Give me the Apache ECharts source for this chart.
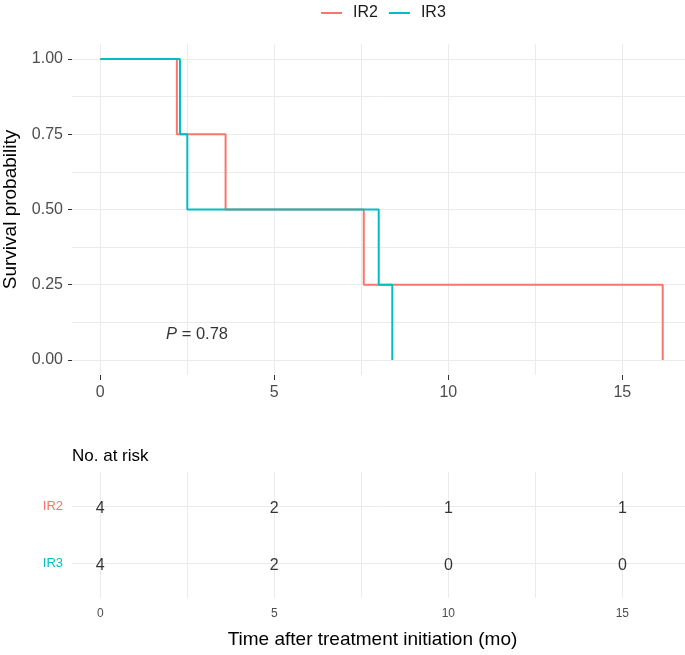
<!DOCTYPE html>
<html>
<head>
<meta charset="utf-8">
<script src="https://cdn.jsdelivr.net/npm/echarts@6/dist/echarts.min.js"></script>
<style>html,body{margin:0;padding:0;background:#fff}#c{width:685px;height:655px}</style>
</head>
<body>
<div id="c"></div>
<script>
// ---- data ----
const groups = ['IR2', 'IR3'];
const groupColors = ['#F8766D', '#00BFC4'];
const ir2Times = [0, 2.2, 3.6, 7.57, 16.16];
const ir2Surv  = [1, 0.75, 0.5, 0.25, 0];
const ir3Times = [0, 2.29, 2.5, 8.0, 8.39];
const ir3Surv  = [1, 0.75, 0.5, 0.25, 0];
const riskTimes = [0, 5, 10, 15];
const ir2Risk = [4, 2, 1, 1];
const ir3Risk = [4, 2, 0, 0];
const xTicks = [0, 5, 10, 15];
const xGrid = [0, 2.5, 5, 7.5, 10, 12.5, 15];
const yTicks = [0, 0.25, 0.5, 0.75, 1];
const yGrid = [0, 0.125, 0.25, 0.375, 0.5, 0.625, 0.75, 0.875, 1];
const pValue = '0.78';

const FONT = 'Liberation Sans, Arial, sans-serif';
const GRID_COL = '#EBEBEB';
const TICK_COL = '#333333';
const xMin = -0.813, xMax = 16.8;

const chart = echarts.init(document.getElementById('c'));

const riskData = [];
riskTimes.forEach((t, i) => {
  riskData.push([t, 2, ir2Risk[i]]);
  riskData.push([t, 1, ir3Risk[i]]);
});

const noLine = { show: false, onZero: false };
const topGrid = { left: 72, right: 0, top: 44, height: 331, outerBoundsMode: 'none' };

const option = {
  backgroundColor: '#fff',
  animation: false,
  textStyle: { fontFamily: FONT },
  title: {
    text: 'No. at risk', left: 67, top: 443,
    textStyle: { fontSize: 17, fontWeight: 'normal', color: '#000', fontFamily: FONT }
  },
  legend: {
    top: 0, left: 316,
    data: groups, icon: 'rect', itemWidth: 21, itemHeight: 2, itemGap: 11,
    textStyle: { fontSize: 16, color: '#1a1a1a', fontFamily: FONT, padding: [0, 0, 0, 6] }
  },
  grid: [
    topGrid,
    { left: 72, right: 0, top: 472, height: 126, outerBoundsMode: 'none' },
    Object.assign({}, topGrid)
  ],
  xAxis: [
    { gridIndex: 0, type: 'value', min: xMin, max: xMax, position: 'bottom',
      axisLine: noLine,
      axisTick: { show: false, customValues: xGrid },
      splitLine: { show: true, lineStyle: { color: GRID_COL, width: 1 } },
      axisLabel: { customValues: xTicks, fontSize: 16, color: '#4D4D4D', margin: 10, fontFamily: FONT } },
    { gridIndex: 1, type: 'value', min: xMin, max: xMax, position: 'bottom',
      axisLine: noLine,
      axisTick: { show: false, customValues: xGrid },
      splitLine: { show: true, lineStyle: { color: GRID_COL, width: 1 } },
      axisLabel: { customValues: xTicks, fontSize: 12, color: '#4D4D4D', margin: 10, fontFamily: FONT },
      name: 'Time after treatment initiation (mo)', nameLocation: 'middle', nameGap: 32,
      nameTextStyle: { fontSize: 19, color: '#000', fontFamily: FONT, padding: [0, 12, 0, 0] } },
    { gridIndex: 2, type: 'value', min: xMin, max: xMax, position: 'bottom',
      axisLine: noLine,
      axisTick: { show: true, customValues: xTicks, length: 5, lineStyle: { color: TICK_COL, width: 1 } },
      splitLine: { show: false }, axisLabel: { show: false } }
  ],
  yAxis: [
    { gridIndex: 0, type: 'value', min: -0.05, max: 1.05, position: 'left',
      axisLine: noLine,
      axisTick: { show: false, customValues: yGrid },
      splitLine: { show: true, lineStyle: { color: GRID_COL, width: 1 } },
      axisLabel: { customValues: yTicks, fontSize: 16, color: '#4D4D4D', margin: 9, fontFamily: FONT,
        formatter: v => v.toFixed(2) },
      name: 'Survival probability', nameLocation: 'middle', nameGap: 52,
      nameTextStyle: { fontSize: 19, color: '#000', fontFamily: FONT } },
    { gridIndex: 1, type: 'value', min: 0.4, max: 2.6, position: 'left',
      axisLine: noLine,
      axisTick: { show: false, customValues: [1, 2] },
      splitLine: { show: true, lineStyle: { color: GRID_COL, width: 1 } },
      axisLabel: { customValues: [1, 2], fontSize: 13, margin: 9, fontFamily: FONT,
        formatter: v => v === 2 ? '{a|' + groups[0] + '}' : '{b|' + groups[1] + '}',
        rich: { a: { color: groupColors[0], fontSize: 13, fontFamily: FONT },
                b: { color: groupColors[1], fontSize: 13, fontFamily: FONT } } } },
    { gridIndex: 2, type: 'value', min: -0.05, max: 1.05, position: 'left',
      axisLine: noLine,
      axisTick: { show: true, customValues: yTicks, length: 4, lineStyle: { color: TICK_COL, width: 1 } },
      splitLine: { show: false }, axisLabel: { show: false } }
  ],
  series: [
    { name: groups[0], type: 'line', step: 'end', xAxisIndex: 0, yAxisIndex: 0,
      data: ir2Times.map((t, i) => [t, ir2Surv[i]]), showSymbol: false, symbol: 'none',
      color: groupColors[0], lineStyle: { width: 2, color: groupColors[0] }, z: 3 },
    { name: groups[1], type: 'line', step: 'end', xAxisIndex: 0, yAxisIndex: 0,
      data: ir3Times.map((t, i) => [t, ir3Surv[i]]), showSymbol: false, symbol: 'none',
      color: groupColors[1], lineStyle: { width: 2, color: groupColors[1] }, z: 4 },
    { type: 'scatter', xAxisIndex: 0, yAxisIndex: 0, symbolSize: 0, silent: true,
      data: [[1.89, 0.086]],
      label: { show: true, position: 'right', distance: 0, fontSize: 16.5, color: '#000', fontFamily: FONT,
        formatter: '{i|P} = ' + pValue,
        rich: { i: { fontStyle: 'italic', fontSize: 16.5, color: '#000', fontFamily: FONT } } } },
    { type: 'scatter', xAxisIndex: 1, yAxisIndex: 1, symbolSize: 0, silent: true,
      data: riskData,
      label: { show: true, position: 'inside', offset: [0, 2], fontSize: 16, color: '#000', fontFamily: FONT,
        formatter: p => String(p.value[2]) } }
  ]
};
chart.setOption(option);
</script>
</body>
</html>
